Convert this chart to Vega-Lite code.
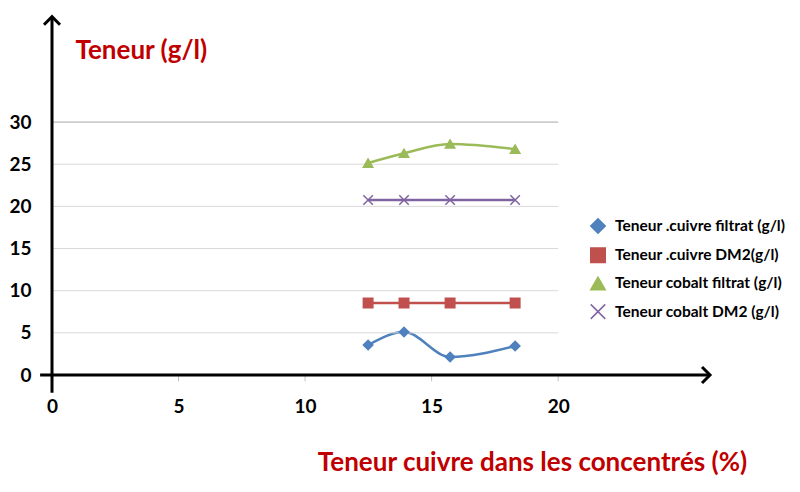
{
  "$schema": "https://vega.github.io/schema/vega-lite/v6.json",
  "width": 658,
  "height": 360,
  "autosize": {"type": "none"},
  "padding": {"left": 52, "top": 15, "right": 90, "bottom": 117},
  "background": "white",
  "config": {"view": {"stroke": null}, "font": "Lato"},
  "datasets": {
    "series": [
      {"x": 12.49, "y": 3.56, "s": "Teneur  .cuivre filtrat (g/l)"},
      {"x": 13.91, "y": 5.1, "s": "Teneur  .cuivre filtrat (g/l)"},
      {"x": 15.73, "y": 2.13, "s": "Teneur  .cuivre filtrat (g/l)"},
      {"x": 18.3, "y": 3.44, "s": "Teneur  .cuivre filtrat (g/l)"},
      {"x": 12.49, "y": 8.54, "s": "Teneur  .cuivre DM2(g/l)"},
      {"x": 13.91, "y": 8.54, "s": "Teneur  .cuivre DM2(g/l)"},
      {"x": 15.73, "y": 8.54, "s": "Teneur  .cuivre DM2(g/l)"},
      {"x": 18.3, "y": 8.54, "s": "Teneur  .cuivre DM2(g/l)"},
      {"x": 12.49, "y": 25.14, "s": "Teneur cobalt filtrat (g/l)"},
      {"x": 13.91, "y": 26.3, "s": "Teneur cobalt filtrat (g/l)"},
      {"x": 15.73, "y": 27.4, "s": "Teneur cobalt filtrat (g/l)"},
      {"x": 18.3, "y": 26.8, "s": "Teneur cobalt filtrat (g/l)"},
      {"x": 12.49, "y": 20.75, "s": "Teneur cobalt DM2 (g/l)"},
      {"x": 13.91, "y": 20.75, "s": "Teneur cobalt DM2 (g/l)"},
      {"x": 15.73, "y": 20.75, "s": "Teneur cobalt DM2 (g/l)"},
      {"x": 18.3, "y": 20.75, "s": "Teneur cobalt DM2 (g/l)"}
    ],
    "grid": [{"g": 5}, {"g": 10}, {"g": 15}, {"g": 20}, {"g": 25}, {"g": 30}],
    "xticks": [{"t": 5}, {"t": 10}, {"t": 15}, {"t": 20}],
    "one": [{}]
  },
  "layer": [
    {
      "data": {"name": "series"},
      "mark": {"type": "line", "interpolate": "monotone", "strokeWidth": 2.5},
      "encoding": {
        "x": {
          "field": "x", "type": "quantitative",
          "scale": {"domain": [0, 26], "nice": false, "zero": false},
          "axis": {
            "values": [0, 5, 10, 15, 20], "domain": false, "ticks": false, "grid": false,
            "labelFlush": false, "labelFont": "Lato", "labelFontSize": 19, "labelFontWeight": "bold",
            "labelColor": "black", "labelPadding": 22,
            "title": "Teneur cuivre dans les concentrés (%)",
            "titleFont": "Lato", "titleFontSize": 26, "titleFontWeight": "bold", "titleColor": "#C00000",
            "titleX": 480, "titleY": 95, "titleAlign": "center", "titleBaseline": "alphabetic"
          }
        },
        "y": {
          "field": "y", "type": "quantitative",
          "scale": {"domain": [0, 42.7], "nice": false, "zero": false},
          "axis": {
            "values": [0, 5, 10, 15, 20, 25, 30], "domain": false, "ticks": false, "grid": false,
            "labelFont": "Lato", "labelFontSize": 19, "labelFontWeight": "bold",
            "labelColor": "black", "labelPadding": 21,
            "title": "Teneur (g/l)", "titleAngle": 0,
            "titleFont": "Lato", "titleFontSize": 26, "titleFontWeight": "bold", "titleColor": "#C00000",
            "titleX": 23, "titleY": 43, "titleAlign": "left", "titleBaseline": "alphabetic"
          }
        },
        "color": {
          "field": "s", "type": "nominal",
          "scale": {
            "domain": ["Teneur  .cuivre filtrat (g/l)", "Teneur  .cuivre DM2(g/l)", "Teneur cobalt filtrat (g/l)", "Teneur cobalt DM2 (g/l)"],
            "range": ["#4F81BD", "#C0504D", "#9BBB59", "#8064A2"]
          },
          "legend": {
            "title": null, "orient": "none", "legendX": 538, "legendY": 203,
            "labelFont": "Lato", "labelFontSize": 15.5, "labelFontWeight": "bold", "labelColor": "black",
            "labelLimit": 300, "symbolSize": 210, "rowPadding": 7.2, "labelOffset": 9
          }
        }
      }
    },
    {
      "data": {"name": "grid"},
      "mark": {"type": "rule", "strokeWidth": 1},
      "encoding": {
        "y": {"field": "g", "type": "quantitative"},
        "x": {"datum": 0},
        "x2": {"datum": 20},
        "color": {"condition": {"test": "datum.g == 30", "value": "#A6A6A6"}, "value": "#D9D9D9"}
      }
    },
    {
      "data": {"name": "xticks"},
      "mark": {"type": "rule", "color": "#BFBFBF", "strokeWidth": 1},
      "encoding": {
        "x": {"field": "t", "type": "quantitative"},
        "y": {"datum": 0},
        "y2": {"datum": -0.75}
      }
    },
    {
      "data": {"name": "series"},
      "mark": {"type": "point", "filled": true, "size": 90, "strokeWidth": 1.5, "opacity": 1},
      "encoding": {
        "x": {"field": "x", "type": "quantitative"},
        "y": {"field": "y", "type": "quantitative"},
        "color": {"field": "s", "type": "nominal"},
        "stroke": {
          "field": "s", "type": "nominal", "legend": null,
          "scale": {
            "domain": ["Teneur  .cuivre filtrat (g/l)", "Teneur  .cuivre DM2(g/l)", "Teneur cobalt filtrat (g/l)", "Teneur cobalt DM2 (g/l)"],
            "range": ["#4F81BD", "#C0504D", "#9BBB59", "#8064A2"]
          }
        },
        "shape": {
          "field": "s", "type": "nominal", "legend": null,
          "scale": {
            "domain": ["Teneur  .cuivre filtrat (g/l)", "Teneur  .cuivre DM2(g/l)", "Teneur cobalt filtrat (g/l)", "Teneur cobalt DM2 (g/l)"],
            "range": ["diamond", "square", "triangle-up", "M-1,-1L1,1M-1,1L1,-1"]
          }
        }
      }
    },
    {
      "data": {"name": "one"},
      "mark": {"type": "rule", "color": "black", "strokeWidth": 3},
      "encoding": {
        "x": {"datum": -0.47},
        "x2": {"datum": 26},
        "y": {"datum": 0}
      }
    },
    {
      "data": {"name": "one"},
      "mark": {"type": "rule", "color": "black", "strokeWidth": 3},
      "encoding": {
        "x": {"datum": 0},
        "y": {"datum": -2.1},
        "y2": {"datum": 42.5}
      }
    },
    {
      "data": {"name": "one"},
      "mark": {"type": "point", "shape": "M-1,-1L0,0L-1,1", "filled": false, "color": "black", "strokeWidth": 3, "size": 256, "opacity": 1},
      "encoding": {
        "x": {"datum": 26},
        "y": {"datum": 0}
      }
    },
    {
      "data": {"name": "one"},
      "mark": {"type": "point", "shape": "M-1,1L0,0L1,1", "filled": false, "color": "black", "strokeWidth": 3, "size": 256, "opacity": 1},
      "encoding": {
        "x": {"datum": 0},
        "y": {"datum": 42.5}
      }
    }
  ]
}
